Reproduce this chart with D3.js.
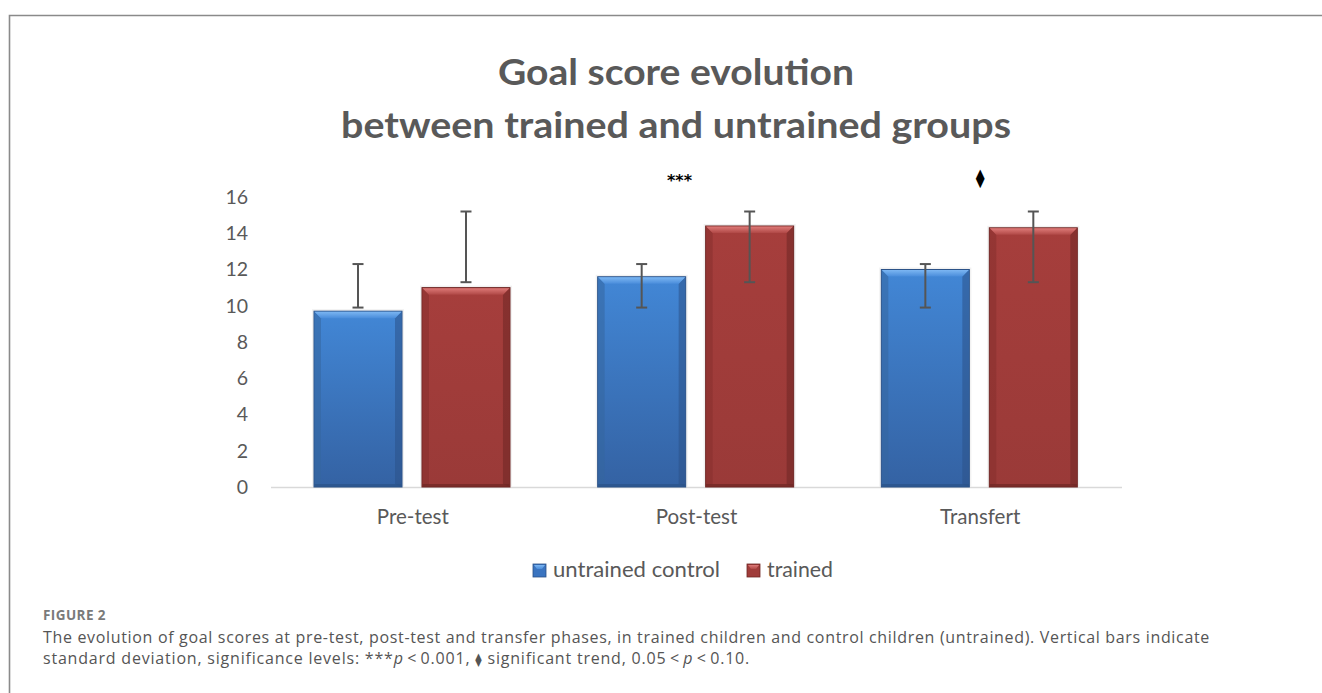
<!DOCTYPE html>
<html>
<head>
<meta charset="utf-8">
<script src="https://cdn.jsdelivr.net/npm/d3@7"></script>
<style>
  html, body { margin: 0; padding: 0; background: #fff; }
  svg { display: block; }
</style>
</head>
<body>
<svg id="chart" width="1322" height="693"></svg>
<script>
const categories = ["Pre-test", "Post-test", "Transfert"];
const seriesNames = ["untrained control", "trained"];
const untrainedValues = [9.7, 11.6, 12.0];
const trainedValues = [11.0, 14.4, 14.3];
const untrainedErrLow = [9.9, 9.9, 9.9];
const untrainedErrHigh = [12.3, 12.3, 12.3];
const trainedErrLow = [11.3, 11.3, 11.3];
const trainedErrHigh = [15.2, 15.2, 15.2];
const significance = ["", "***", "\u29EB"];
const yTicks = [0, 2, 4, 6, 8, 10, 12, 14, 16];
const titleLines = ["Goal score evolution", "between trained and untrained groups"];

const svg = d3.select("#chart");
const defs = svg.append("defs");

// frame
svg.append("path").attr("d", "M9.5,693 V15.5 H1322")
  .attr("fill", "none").attr("stroke", "#8a8a8a").attr("stroke-width", 1.6);

function grad(id, stops) {
  const g = defs.append("linearGradient").attr("id", id)
    .attr("x1", 0).attr("y1", 0).attr("x2", 0).attr("y2", 1);
  stops.forEach(s => g.append("stop").attr("offset", s[0]).attr("stop-color", s[1]));
}
grad("gBlue", [[0, "#4287d6"], [1, "#3462a3"]]);
grad("gRed", [[0, "#a63e3c"], [1, "#9a3a38"]]);
grad("gBlueTop", [[0, "#7cb6f2"], [1, "#4a8ddb"]]);
grad("gRedTop", [[0, "#de7a78"], [1, "#b04846"]]);

const colors = {
  "untrained control": { main: "url(#gBlue)", top: "url(#gBlueTop)", edge: "#2b5288", side: "#35669f", legend: "#3a74c0" },
  "trained": { main: "url(#gRed)", top: "url(#gRedTop)", edge: "#6e2624", side: "#86302e", legend: "#a03c3a" }
};

const x = d3.scaleBand().domain(categories).range([271, 1122]).paddingInner(0).paddingOuter(0);
const xs = d3.scaleBand().domain(seriesNames)
  .range([x.bandwidth() * 0.1516, x.bandwidth() * 0.8425]).paddingInner(0.185).paddingOuter(0);
const y = d3.scaleLinear().domain([0, 16]).range([487, 197]);

// title
const titleWidths = [356, 670];
const titleY = [85, 138];
titleLines.forEach((t, i) => {
  svg.append("text").attr("x", 676).attr("y", titleY[i]).attr("text-anchor", "middle")
    .attr("font-family", "Lato, 'Open Sans', sans-serif").attr("font-weight", "bold")
    .attr("fill", "#595959").attr("font-size", 35.5)
    .attr("textLength", titleWidths[i]).attr("lengthAdjust", "spacingAndGlyphs")
    .text(t);
});

// y axis labels
const yAxis = d3.axisLeft(y).tickValues(yTicks).tickSize(0).tickPadding(0);
const yg = svg.append("g").attr("transform", "translate(248,0)").call(yAxis);
yg.select(".domain").remove();
yg.selectAll("text").attr("font-family", "Lato, sans-serif").attr("font-size", 19.5)
  .attr("fill", "#595959");

// baseline
svg.append("line").attr("x1", 271).attr("x2", 1122).attr("y1", y(0) + 0.5).attr("y2", y(0) + 0.5)
  .attr("stroke", "#d9d9d9").attr("stroke-width", 1.5);

// x axis labels
const xAxis = d3.axisBottom(x).tickSize(0).tickPadding(0);
const xg = svg.append("g").attr("transform", "translate(0,509)").call(xAxis);
xg.select(".domain").remove();
xg.selectAll("text").attr("font-family", "Lato, sans-serif").attr("font-size", 20.5)
  .attr("fill", "#595959");

const rows = [];
categories.forEach((c, i) => {
  rows.push({ cat: c, s: seriesNames[0], v: untrainedValues[i], lo: untrainedErrLow[i], hi: untrainedErrHigh[i] });
  rows.push({ cat: c, s: seriesNames[1], v: trainedValues[i], lo: trainedErrLow[i], hi: trainedErrHigh[i] });
});

const bars = svg.append("g").selectAll("g").data(rows).join("g")
  .attr("transform", d => `translate(${x(d.cat) + xs(d.s)},0)`);
const bw = xs.bandwidth();
const bev = 7;
bars.append("rect").attr("x", -2).attr("width", bw + 4)
  .attr("y", d => y(d.v) - 2).attr("height", d => y(0) - y(d.v) + 2)
  .attr("fill", "#f1f1f1");
bars.append("rect").attr("x", 0).attr("width", bw)
  .attr("y", d => y(d.v)).attr("height", d => y(0) - y(d.v))
  .attr("fill", d => colors[d.s].main)
  .attr("stroke", d => colors[d.s].edge).attr("stroke-width", 1);
bars.append("path")
  .attr("d", d => `M0.5,${y(d.v)} L${bev},${y(d.v) + bev} V${y(0) - 3} L0.5,${y(0)} Z`)
  .attr("fill", d => colors[d.s].side).attr("opacity", 0.55);
bars.append("path")
  .attr("d", d => `M${bw - 0.5},${y(d.v)} L${bw - bev},${y(d.v) + bev} V${y(0) - 3} L${bw - 0.5},${y(0)} Z`)
  .attr("fill", d => colors[d.s].edge).attr("opacity", 0.55);
bars.append("path")
  .attr("d", d => `M0.5,${y(d.v) + 0.5} H${bw - 0.5} L${bw - bev},${y(d.v) + bev} H${bev} Z`)
  .attr("fill", d => colors[d.s].top);
bars.append("rect").attr("x", 0.5).attr("width", bw - 1)
  .attr("y", y(0) - 3).attr("height", 3)
  .attr("fill", d => colors[d.s].edge).attr("opacity", 0.7);

const eb = bars.append("g").attr("stroke", "#555555").attr("stroke-width", 2);
eb.append("line").attr("x1", bw / 2).attr("x2", bw / 2)
  .attr("y1", d => y(d.lo)).attr("y2", d => y(d.hi));
eb.append("line").attr("x1", bw / 2 - 5.5).attr("x2", bw / 2 + 5.5)
  .attr("y1", d => y(d.lo)).attr("y2", d => y(d.lo));
eb.append("line").attr("x1", bw / 2 - 5.5).attr("x2", bw / 2 + 5.5)
  .attr("y1", d => y(d.hi)).attr("y2", d => y(d.hi));

svg.append("g").selectAll("text").data(categories).join("text")
  .attr("x", (c, i) => x(c) + x.bandwidth() / 2 + (i === 1 ? -17 : 0))
  .attr("y", (c, i) => i === 1 ? 186 : 184)
  .attr("text-anchor", "middle")
  .attr("font-family", "'DejaVu Sans', sans-serif")
  .attr("font-weight", "bold")
  .attr("font-size", (c, i) => i === 1 ? 16 : 18)
  .attr("fill", "#000")
  .text((c, i) => significance[i]);

// legend
const legend = svg.append("g");
const legX = [533, 747];
const legW = [167, 66];
seriesNames.forEach((s, i) => {
  const g = legend.append("g").attr("transform", `translate(${legX[i]},564)`);
  g.append("rect").attr("width", 13).attr("height", 13).attr("fill", colors[s].legend)
    .attr("stroke", colors[s].edge).attr("stroke-width", 0.8);
  g.append("path").attr("d", "M1,1 H12 L9,5 H4 Z").attr("fill", colors[s].top);
  g.append("text").attr("x", 20).attr("y", 12.5).attr("font-family", "Lato, sans-serif")
    .attr("font-size", 20.5).attr("fill", "#595959")
    .attr("textLength", legW[i]).attr("lengthAdjust", "spacingAndGlyphs").text(s);
});

// caption
const fig = svg.append("text").attr("x", 43).attr("y", 620).attr("font-family", "'Open Sans', sans-serif")
  .attr("font-weight", "bold").attr("font-size", 13.5).attr("fill", "#7a7a7a").text("FIGURE 2");
const l1 = svg.append("text").attr("font-family", "'Open Sans', sans-serif")
  .attr("font-size", 16).attr("fill", "#555").attr("x", 43).attr("y", 643)
  .text("The evolution of goal scores at pre-test, post-test and transfer phases, in trained children and control children (untrained). Vertical bars indicate");
const l2 = svg.append("text").attr("font-family", "'Open Sans', sans-serif")
  .attr("font-size", 16).attr("fill", "#555").attr("x", 43).attr("y", 664);
l2.append("tspan").text("standard deviation, significance levels: ***");
l2.append("tspan").attr("font-style", "italic").text("p");
l2.append("tspan").text("\u2009<\u20090.001, ");
l2.append("tspan").attr("font-family", "'DejaVu Sans', sans-serif").attr("font-size", 13).text("\u29EB");
l2.append("tspan").text(" significant trend, 0.05\u2009<\u2009");
l2.append("tspan").attr("font-style", "italic").text("p");
l2.append("tspan").text("\u2009<\u20090.10.");

// fit caption widths via letter-spacing
function fit(sel, target) {
  const n = sel.text().length;
  const w = sel.node().getComputedTextLength();
  sel.attr("letter-spacing", ((target - w) / n).toFixed(3));
}
fit(l1, 1167);
fit(l2, 707);
fit(fig, 63);
</script>
</body>
</html>
